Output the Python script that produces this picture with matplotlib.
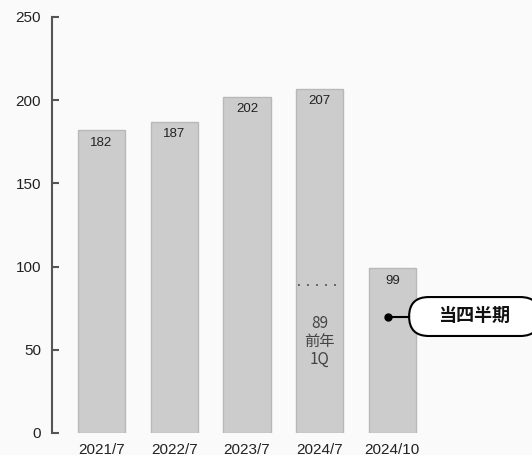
import matplotlib.pyplot as plt
from matplotlib.patches import FancyBboxPatch

# 数据
periods = ["2021/7", "2022/7", "2023/7", "2024/7", "2024/10"]
values = [182, 187, 202, 207, 99]
prev_q1 = 89          # 前年1Q
current_q = 70        # 当四半期 marker level
y_ticks = [0, 50, 100, 150, 200, 250]

plt.rcParams['font.family'] = ['Liberation Sans', 'Noto Sans CJK JP']
bg = "#fafafa"

fig = plt.figure(figsize=(5.32, 4.55), dpi=100, facecolor=bg)
ax = fig.add_axes([52 / 532, 22 / 455, 1 - 52 / 532, 416 / 455], facecolor=bg)

x = list(range(len(periods)))
ax.bar(x, values, width=0.65, color="#cccccc", edgecolor="#b8b8b8", linewidth=1)

# bar value labels just below the top of each bar
for xi, v in zip(x, values):
    ax.annotate(str(v), (xi, v), xytext=(0, -9), textcoords="offset points",
                ha="center", va="center", fontsize=9.5, color="#222222")

# previous-year 1Q marker inside the 2024/7 bar
ax.plot([3 - 0.3, 3 + 0.3], [prev_q1, prev_q1], linestyle=(0, (1, 4)),
        color="#555555", linewidth=1.3)
ax.text(3, 55, f"{prev_q1}\n前年\n1Q", ha="center", va="center",
        fontsize=11, color="#444444", linespacing=1.05,
        family=["Noto Sans CJK JP", "DejaVu Sans"])

# callout for the current quarter
ax.plot([3.94, 4.23], [current_q, current_q], color="black", linewidth=1.5)
ax.plot(3.94, current_q, "o", color="black", markersize=5)
aspect = 72.75 / 1.664
box = FancyBboxPatch((4.23, current_q - 11.7), 1.8, 23.4,
                     boxstyle="round,pad=0,rounding_size=0.27",
                     mutation_aspect=aspect, facecolor="white",
                     edgecolor="black", linewidth=1.5, clip_on=False)
ax.add_patch(box)
ax.text(5.12, current_q, "当四半期", ha="center", va="center",
        fontsize=13, fontweight="bold", color="#111111")

ax.set_xlim(-0.68, 5.92)
ax.set_ylim(0, 250)
ax.set_yticks(y_ticks)
ax.set_xticks(x)
ax.set_xticklabels(periods)

for side in ["top", "right", "bottom"]:
    ax.spines[side].set_visible(False)
ax.spines["left"].set_color("#555555")
ax.spines["left"].set_linewidth(1.5)
ax.tick_params(axis="y", direction="in", length=5, width=1.5, color="#555555",
               labelsize=11, labelcolor="#222222", pad=8)
ax.tick_params(axis="x", length=0, labelsize=11, labelcolor="#222222", pad=7)

fig.savefig("out.png", dpi=100, facecolor=bg)
